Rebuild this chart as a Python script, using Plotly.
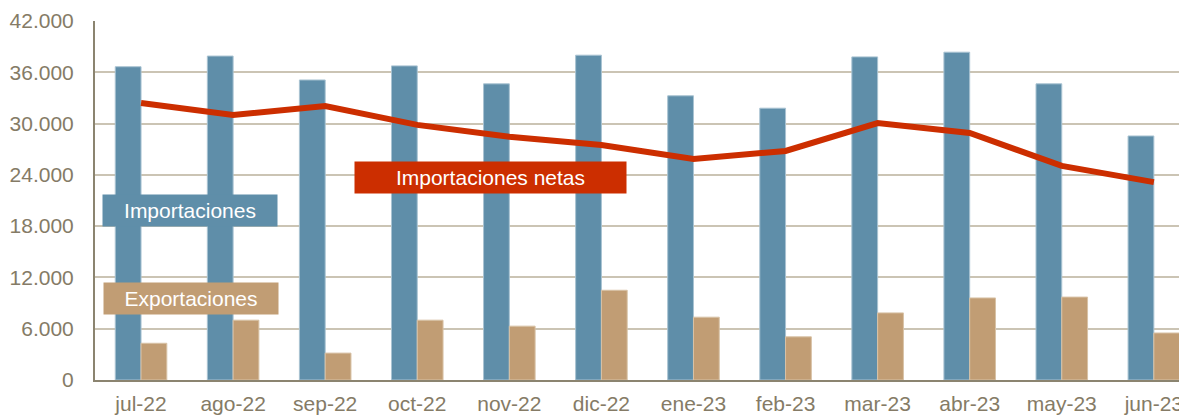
import plotly.graph_objects as go

meses = ["jul-22", "ago-22", "sep-22", "oct-22", "nov-22", "dic-22",
         "ene-23", "feb-23", "mar-23", "abr-23", "may-23", "jun-23"]
importaciones = [36650, 37900, 35100, 36750, 34650, 38000,
                 33250, 31800, 37800, 38350, 34650, 28550]
exportaciones = [4300, 7000, 3150, 7000, 6300, 10500,
                 7350, 5050, 7850, 9600, 9700, 5500]
importaciones_netas = [32400, 31000, 32050, 29850, 28450, 27500,
                       25850, 26800, 30050, 28900, 25050, 23150]
y_ticks = [0, 6000, 12000, 18000, 24000, 30000, 36000, 42000]

BLUE = "#5F8EA9"
TAN = "#C19D74"
RED = "#CC2E00"
AXIS = "#857B66"
GRID = "#CBC4B4"

x = list(range(len(meses)))
fig = go.Figure()
fig.add_trace(go.Bar(x=x, y=importaciones, name="Importaciones",
                     marker=dict(color=BLUE, line=dict(color="#A9C3D2", width=1))))
fig.add_trace(go.Bar(x=x, y=exportaciones, name="Exportaciones",
                     marker=dict(color=TAN, line=dict(color="#D8C2A6", width=1))))
fig.add_trace(go.Scatter(x=x, y=importaciones_netas, name="Importaciones netas",
                         mode="lines", line=dict(color=RED, width=6)))

font = "Liberation Sans, Arial, sans-serif"
# page body has an 8px offset; plot area on screen: x 95..1187, y 21..380
OFF = 8
FW, FH = 1187 - OFF, 416 - OFF
L, T, B = 95 - OFF, 21 - OFF, FH - (380 - OFF)
W, H = FW - L, 359
fig.update_layout(
    width=FW, height=FH,
    margin=dict(l=L, r=0, t=T, b=B),
    paper_bgcolor="white", plot_bgcolor="white",
    barmode="group", bargap=0.44, bargroupgap=0,
    showlegend=False,
    separators=",.",
    font=dict(family=font, size=21, color=AXIS),
    xaxis=dict(range=[-0.5, 11.36], tickvals=x, ticktext=meses,
               showline=True, linecolor="#8B8470", linewidth=2,
               showgrid=False, ticks="", automargin=False, ticklabelstandoff=4,
               ticklabeloverflow="allow",
               tickfont=dict(size=21, color=AXIS)),
    yaxis=dict(range=[0, 42000], tickvals=y_ticks, tickformat=",d",
               showline=True, linecolor="#8B8470", linewidth=2,
               showgrid=True, gridcolor=GRID, gridwidth=2,
               ticks="", ticklen=0, automargin=False, ticklabelstandoff=15,
               tickfont=dict(size=21, color=AXIS),
               zeroline=False),
    annotations=[
        dict(xref="paper", yref="paper", x=(190 - 95) / W, y=(380 - 210) / H,
             xanchor="center", yanchor="middle",
             text="Importaciones", showarrow=False, bgcolor=BLUE,
             width=172, height=29, font=dict(color="white", size=21, family=font)),
        dict(xref="paper", yref="paper", x=(191 - 95) / W, y=(380 - 298) / H,
             xanchor="center", yanchor="middle",
             text="Exportaciones", showarrow=False, bgcolor=TAN,
             width=172, height=29, font=dict(color="white", size=21, family=font)),
        dict(xref="paper", yref="paper", x=(490 - 95) / W, y=(380 - 178) / H,
             xanchor="center", yanchor="middle",
             text="Importaciones netas", showarrow=False, bgcolor=RED,
             width=269, height=29, font=dict(color="white", size=21, family=font)),
    ],
)

fig.write_html("out.html")
